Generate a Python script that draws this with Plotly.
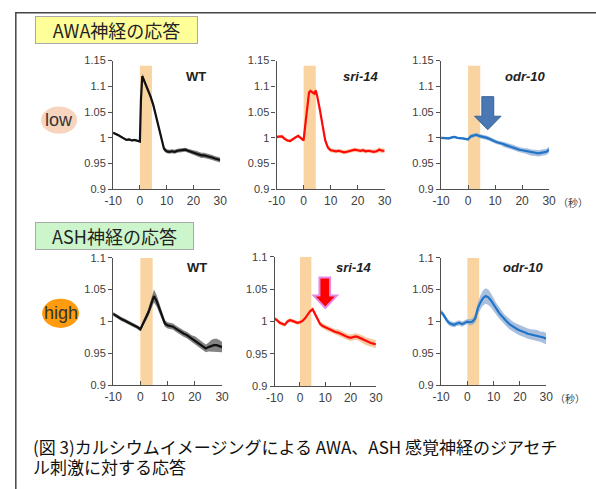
import plotly.graph_objects as go

W, H = 596, 489

# ---------------- data ----------------
xticks = [-10, 0, 10, 20, 30]
xtick_text = ["-10", "0", "10", "20", "30"]
yticks_top = [0.9, 0.95, 1.0, 1.05, 1.1, 1.15]
ytick_text_top = ["0.9", "0.95", "1", "1.05", "1.1", "1.15"]
yticks_bot = [0.9, 0.95, 1.0, 1.05, 1.1]
ytick_text_bot = ["0.9", "0.95", "1", "1.05", "1.1"]
stim_start, stim_end = 0, 4.5
caption_lines = ["(図 3)カルシウムイメージングによる AWA、ASH 感覚神経のジアセチ",
                 "ル刺激に対する応答"]

# AWA (low) - WT
awa_wt_t = [-10, -9, -8, -7, -6, -5, -4, -3, -2, -1, 0, 0.4, 0.9, 1.5,
            2, 3, 4, 5, 6, 7, 8, 9, 10, 11, 12, 13, 14, 15, 16, 17, 18, 19,
            20, 21, 22, 23, 24, 25, 26, 27, 28, 29, 30]
awa_wt_mean = [1.010, 1.008, 1.005, 1.002, 0.999, 0.996, 0.997, 0.995, 0.996, 0.994,
               0.993, 1.075, 1.120, 1.112,
               1.106, 1.095, 1.080, 1.064, 1.042, 1.020, 0.995, 0.979, 0.974, 0.973,
               0.974, 0.973, 0.975, 0.976, 0.977, 0.977, 0.975, 0.973,
               0.971, 0.970, 0.968, 0.966, 0.966, 0.965, 0.964, 0.962, 0.960, 0.959, 0.957]
awa_wt_sem = [0.002, 0.002, 0.002, 0.002, 0.002, 0.002, 0.002, 0.002, 0.002, 0.002,
              0.002, 0.004, 0.005, 0.005,
              0.005, 0.005, 0.005, 0.005, 0.005, 0.005, 0.005, 0.005, 0.004, 0.004,
              0.004, 0.004, 0.004, 0.004, 0.004, 0.004, 0.004, 0.004,
              0.005, 0.005, 0.005, 0.005, 0.005, 0.005, 0.005, 0.005, 0.005, 0.005, 0.005]

# AWA (low) - sri-14
awa_sri_t = [-10, -9, -8, -7, -6, -5, -4, -3, -2, -1, 0,
             0.5, 1, 1.5, 2, 2.5, 3, 3.5, 4, 4.5,
             5, 6, 7, 8, 9, 10, 11, 12, 13, 14, 15, 16, 17, 18, 19, 20,
             21, 22, 23, 24, 25, 26, 27, 28, 29, 30]
awa_sri_mean = [1.002, 1.003, 1.003, 0.998, 0.995, 0.994, 0.998, 1.001, 1.004, 0.999, 0.995,
                1.020, 1.045, 1.075, 1.088, 1.091, 1.089, 1.087, 1.086, 1.092,
                1.082, 1.055, 1.022, 0.995, 0.981, 0.976, 0.975, 0.974, 0.975, 0.973,
                0.972, 0.973, 0.974, 0.975, 0.977, 0.976,
                0.975, 0.976, 0.974, 0.975, 0.974, 0.973, 0.974, 0.977, 0.975, 0.975]
awa_sri_sem = [0.003, 0.003, 0.003, 0.003, 0.003, 0.003, 0.003, 0.003, 0.003, 0.003, 0.003,
               0.004, 0.004, 0.005, 0.005, 0.005, 0.005, 0.005, 0.005, 0.006,
               0.006, 0.005, 0.005, 0.005, 0.004, 0.004, 0.004, 0.004, 0.004, 0.004,
               0.004, 0.004, 0.004, 0.004, 0.004, 0.004,
               0.004, 0.004, 0.004, 0.004, 0.004, 0.004, 0.004, 0.005, 0.005, 0.005]

# AWA (low) - odr-10
awa_odr_t = [-10, -9, -8, -7, -6, -5, -4, -3, -2, -1, 0, 1, 2, 3, 4, 5, 6, 7, 8, 9, 10,
             11, 12, 13, 14, 15, 16, 17, 18, 19, 20, 21, 22, 23, 24, 25, 26, 27, 28, 29, 30]
awa_odr_mean = [1.000, 1.000, 1.000, 0.999, 1.001, 1.002, 1.000, 1.000, 0.999, 0.998, 0.997,
                1.003, 1.005, 1.006, 1.004, 1.003, 1.002, 1.000, 0.998, 0.995, 0.993,
                0.991, 0.990, 0.988, 0.986, 0.984, 0.983, 0.981, 0.979, 0.977, 0.976,
                0.975, 0.974, 0.972, 0.971, 0.970, 0.970, 0.971, 0.972, 0.973, 0.977]
awa_odr_sem = [0.002, 0.002, 0.002, 0.002, 0.002, 0.002, 0.002, 0.002, 0.002, 0.002, 0.003,
               0.004, 0.004, 0.004, 0.004, 0.004, 0.004, 0.004, 0.004, 0.004, 0.004,
               0.004, 0.004, 0.005, 0.005, 0.005, 0.005, 0.005, 0.005, 0.005, 0.005,
               0.005, 0.006, 0.006, 0.006, 0.006, 0.006, 0.006, 0.006, 0.006, 0.006]

# ASH (high) - WT
ash_wt_t = [-10, -9, -8, -7, -6, -5, -4, -3, -2, -1, 0, 1, 2, 3, 4, 5, 6, 7, 8, 9, 10,
            11, 12, 13, 14, 15, 16, 17, 18, 19, 20, 21, 22, 23, 24, 25, 26, 27, 28, 29, 30]
ash_wt_mean = [1.012, 1.009, 1.006, 1.004, 1.002, 1.000, 0.998, 0.996, 0.994, 0.991, 0.988,
               0.997, 1.006, 1.015, 1.028, 1.040, 1.032, 1.021, 1.008, 0.997, 0.994,
               0.993, 0.992, 0.989, 0.986, 0.984, 0.981, 0.979, 0.976, 0.973, 0.971,
               0.968, 0.965, 0.961, 0.958, 0.960, 0.962, 0.963, 0.963, 0.962, 0.960]
ash_wt_sem = [0.003, 0.003, 0.003, 0.003, 0.003, 0.003, 0.003, 0.003, 0.003, 0.003, 0.003,
              0.004, 0.005, 0.006, 0.008, 0.010, 0.009, 0.008, 0.006, 0.005, 0.005,
              0.005, 0.005, 0.005, 0.005, 0.005, 0.005, 0.005, 0.005, 0.005, 0.006,
              0.006, 0.006, 0.006, 0.006, 0.007, 0.009, 0.010, 0.010, 0.009, 0.008]

# ASH (high) - sri-14
ash_sri_t = [-10, -9, -8, -7, -6, -5, -4, -3, -2, -1, 0, 1, 2, 3, 4, 5, 6, 7, 8, 9, 10,
             11, 12, 13, 14, 15, 16, 17, 18, 19, 20, 21, 22, 23, 24, 25, 26, 27, 28, 29, 30]
ash_sri_mean = [1.0045, 1.002, 0.998, 0.996, 0.995, 1.000, 1.002, 1.001, 0.999, 0.998, 0.999,
                1.001, 1.005, 1.011, 1.016, 1.019, 1.011, 1.003, 0.996, 0.993, 0.991,
                0.989, 0.988, 0.986, 0.984, 0.983, 0.981, 0.979, 0.977, 0.976, 0.975,
                0.976, 0.977, 0.976, 0.974, 0.972, 0.970, 0.969, 0.967, 0.966, 0.965]
ash_sri_sem = [0.003, 0.003, 0.003, 0.003, 0.003, 0.003, 0.003, 0.003, 0.003, 0.003, 0.003,
               0.003, 0.003, 0.003, 0.003, 0.003, 0.004, 0.004, 0.004, 0.004, 0.004,
               0.004, 0.004, 0.004, 0.004, 0.005, 0.005, 0.005, 0.005, 0.005, 0.005,
               0.005, 0.005, 0.005, 0.006, 0.006, 0.006, 0.006, 0.006, 0.006, 0.006]

# ASH (high) - odr-10
ash_odr_t = [-10, -9, -8, -7, -6, -5, -4, -3, -2, -1, 0, 1, 2, 3, 4, 5, 6, 7, 8, 9, 10,
             11, 12, 13, 14, 15, 16, 17, 18, 19, 20, 21, 22, 23, 24, 25, 26, 27, 28, 29, 30]
ash_odr_mean = [1.015, 1.010, 1.003, 0.998, 0.996, 0.995, 0.997, 0.998, 0.996, 0.998, 1.000,
                0.999, 1.000, 1.005, 1.021, 1.030, 1.037, 1.040, 1.038, 1.033, 1.026,
                1.020, 1.014, 1.009, 1.004, 1.000, 0.996, 0.993, 0.990, 0.988, 0.986,
                0.985, 0.983, 0.981, 0.980, 0.980, 0.979, 0.978, 0.976, 0.975, 0.973]
ash_odr_sem = [0.004, 0.004, 0.004, 0.004, 0.004, 0.004, 0.004, 0.004, 0.004, 0.004, 0.004,
               0.005, 0.005, 0.007, 0.009, 0.011, 0.012, 0.012, 0.012, 0.011, 0.010,
               0.009, 0.009, 0.008, 0.008, 0.008, 0.008, 0.008, 0.008, 0.008, 0.008,
               0.008, 0.008, 0.008, 0.008, 0.008, 0.008, 0.008, 0.008, 0.009, 0.009]

panel_names = ["WT", "sri-14", "odr-10", "WT", "sri-14", "odr-10"]

# ---------------- style ----------------
LINE_COL = {"WT": "#111111", "sri-14": "#ff0a0a", "odr-10": "#2175c7"}
BAND_COL = {"WT": "rgba(100,100,100,0.8)", "sri-14": "rgba(245,190,140,0.85)",
            "odr-10": "rgba(140,170,210,0.75)"}
STIM_COL = "#f9d3a0"
AX_COL = "#505050"
TICK_FONT = dict(family="Liberation Sans, Arial", size=11, color="#404040")

# plot areas in pixels: (left, right, top, bottom)
boxes = [(107, 217, 56, 188), (275, 386, 56, 188), (444, 555, 56, 188),
         (107, 219, 258, 389), (273, 377, 257, 390), (444, 552, 258, 389)]

series = [(awa_wt_t, awa_wt_mean, awa_wt_sem),
          (awa_sri_t, awa_sri_mean, awa_sri_sem),
          (awa_odr_t, awa_odr_mean, awa_odr_sem),
          (ash_wt_t, ash_wt_mean, ash_wt_sem),
          (ash_sri_t, ash_sri_mean, ash_sri_sem),
          (ash_odr_t, ash_odr_mean, ash_odr_sem)]

fig = go.Figure()
shapes = []
annotations = []

for i, ((t, m, s), name, box) in enumerate(zip(series, panel_names, boxes)):
    k = i + 1
    xa = "x" if k == 1 else f"x{k}"
    ya = "y" if k == 1 else f"y{k}"
    top_row = i < 3
    upper = [a + b for a, b in zip(m, s)]
    lower = [a - b for a, b in zip(m, s)]
    fig.add_trace(go.Scatter(x=t, y=lower, xaxis=xa, yaxis=ya, mode="lines",
                             line=dict(width=0, color=BAND_COL[name]),
                             hoverinfo="skip", showlegend=False))
    fig.add_trace(go.Scatter(x=t, y=upper, xaxis=xa, yaxis=ya, mode="lines",
                             line=dict(width=0, color=BAND_COL[name]),
                             fill="tonexty", fillcolor=BAND_COL[name],
                             hoverinfo="skip", showlegend=False))
    fig.add_trace(go.Scatter(x=t, y=m, xaxis=xa, yaxis=ya, mode="lines",
                             line=dict(width=2.2, color=LINE_COL[name]),
                             name=name, showlegend=False))
    l, r, tp, bt = box
    xkey = "xaxis" if k == 1 else f"xaxis{k}"
    ykey = "yaxis" if k == 1 else f"yaxis{k}"
    fig.update_layout({
        xkey: dict(domain=[l / W, r / W], anchor=ya, range=[-10, 30],
                   tickvals=xticks, ticktext=xtick_text, ticks="inside", ticklen=4,
                   tickcolor=AX_COL, showline=True, linecolor=AX_COL, linewidth=1.3,
                   showgrid=False, zeroline=False,
                   tickfont=dict(family="Liberation Sans, Arial", size=12, color="#404040")),
        ykey: dict(domain=[1 - bt / H, 1 - tp / H], anchor=xa,
                   range=[0.9, 1.15] if top_row else [0.9, 1.1],
                   tickvals=yticks_top if top_row else yticks_bot,
                   ticktext=ytick_text_top if top_row else ytick_text_bot,
                   ticks="outside", ticklen=4, tickcolor=AX_COL,
                   showline=True, linecolor=AX_COL, linewidth=1.3,
                   showgrid=False, zeroline=False, tickfont=TICK_FONT),
    })
    shapes.append(dict(type="rect", xref=xa, yref=ya, x0=stim_start, x1=stim_end,
                       y0=0.9, y1=1.14 if top_row else 1.1,
                       fillcolor=STIM_COL, line=dict(width=0), layer="below"))
    # panel label
    italic = name != "WT"
    label = f"<b><i>{name}</i></b>" if italic else f"<b>{name}</b>"
    annotations.append(dict(text=label, xref=f"{xa} domain", yref=f"{ya} domain",
                            x=0.78 if italic else 0.77, y=0.88 if top_row else 0.92,
                            showarrow=False, xanchor="center", yanchor="middle",
                            font=dict(family="Liberation Sans, Arial", size=13,
                                      color="#222222")))
    if k in (3, 6):
        annotations.append(dict(text="（秒）", xref=f"{xa} domain", yref="paper",
                                x=1.065, y=1 - (bt + 13) / H, xanchor="left",
                                yanchor="middle", showarrow=False,
                                font=dict(family="Noto Sans CJK JP", size=10,
                                          color="#404040")))

# arrows (decorations) in subplot data coordinates
shapes.append(dict(type="path", xref="x3", yref="y3",
                   path="M 5.1,1.080 L 9.5,1.080 L 9.5,1.042 L 12.2,1.042 L 7.3,1.016 "
                        "L 2.4,1.042 L 5.1,1.042 Z",
                   fillcolor="#4a78b4", line=dict(color="#3b6293", width=1)))
shapes.append(dict(type="path", xref="x5", yref="y5",
                   path="M 7.7,1.068 L 11.9,1.068 L 11.9,1.040 L 14.6,1.040 L 10.0,1.021 "
                        "L 5.4,1.040 L 7.7,1.040 Z",
                   fillcolor="#ff0000", line=dict(color="#e589e5", width=2)))

# "low" / "high" glows
shapes.append(dict(type="circle", xref="paper", yref="paper",
                   x0=33 / W, x1=70 / W, y0=1 - 131 / H, y1=1 - 103 / H,
                   fillcolor="rgba(246,205,178,0.85)", line=dict(width=0), layer="below"))
shapes.append(dict(type="circle", xref="paper", yref="paper",
                   x0=34 / W, x1=72 / W, y0=1 - 330 / H, y1=1 - 300 / H,
                   fillcolor="rgba(255,150,0,0.95)", line=dict(width=0), layer="below"))

# outer frame
shapes.append(dict(type="rect", xref="paper", yref="paper",
                   x0=7 / W, x1=1.05, y0=-0.05, y1=1 - 7 / H,
                   line=dict(color="#444444", width=1.5), fillcolor="rgba(0,0,0,0)",
                   layer="below"))

annotations += [
    dict(text="AWA神経の応答", xref="paper", yref="paper", x=27 / W, y=1 - 10 / H,
         xanchor="left", yanchor="top", showarrow=False, width=157, height=22,
         bgcolor="#ffff99", bordercolor="#a8a8a8", borderwidth=1, borderpad=2,
         font=dict(family="Noto Sans CJK JP", size=18, color="#222222")),
    dict(text="ASH神経の応答", xref="paper", yref="paper", x=27 / W, y=1 - 221 / H,
         xanchor="left", yanchor="top", showarrow=False, width=153, height=22,
         bgcolor="#ccf5cc", bordercolor="#a8a8a8", borderwidth=1, borderpad=2,
         font=dict(family="Noto Sans CJK JP", size=18, color="#222222")),
    dict(text="low", xref="paper", yref="paper", x=51 / W, y=1 - 117 / H,
         xanchor="center", yanchor="middle",
         showarrow=False, font=dict(family="Liberation Sans, Arial", size=18, color="#333333")),
    dict(text="high", xref="paper", yref="paper", x=53 / W, y=1 - 315 / H,
         xanchor="center", yanchor="middle",
         showarrow=False, font=dict(family="Liberation Sans, Arial", size=18, color="#333333")),
]
for line_text, cy in zip(caption_lines, [452, 472]):
    annotations.append(dict(text=line_text, xref="paper", yref="paper",
                            x=24 / W, y=1 - cy / H, xanchor="left", yanchor="middle",
                            showarrow=False, borderpad=0,
                            font=dict(family="Noto Sans CJK JP", size=17, color="#111111")))

fig.update_layout(width=W, height=H, margin=dict(l=0, r=0, t=0, b=0),
                  paper_bgcolor="white", plot_bgcolor="rgba(0,0,0,0)",
                  shapes=shapes, annotations=annotations, showlegend=False)

fig.write_html("out.html", config={"displayModeBar": False},
               post_script="document.body.style.margin='0';"
                           "document.body.style.overflow='hidden';")
